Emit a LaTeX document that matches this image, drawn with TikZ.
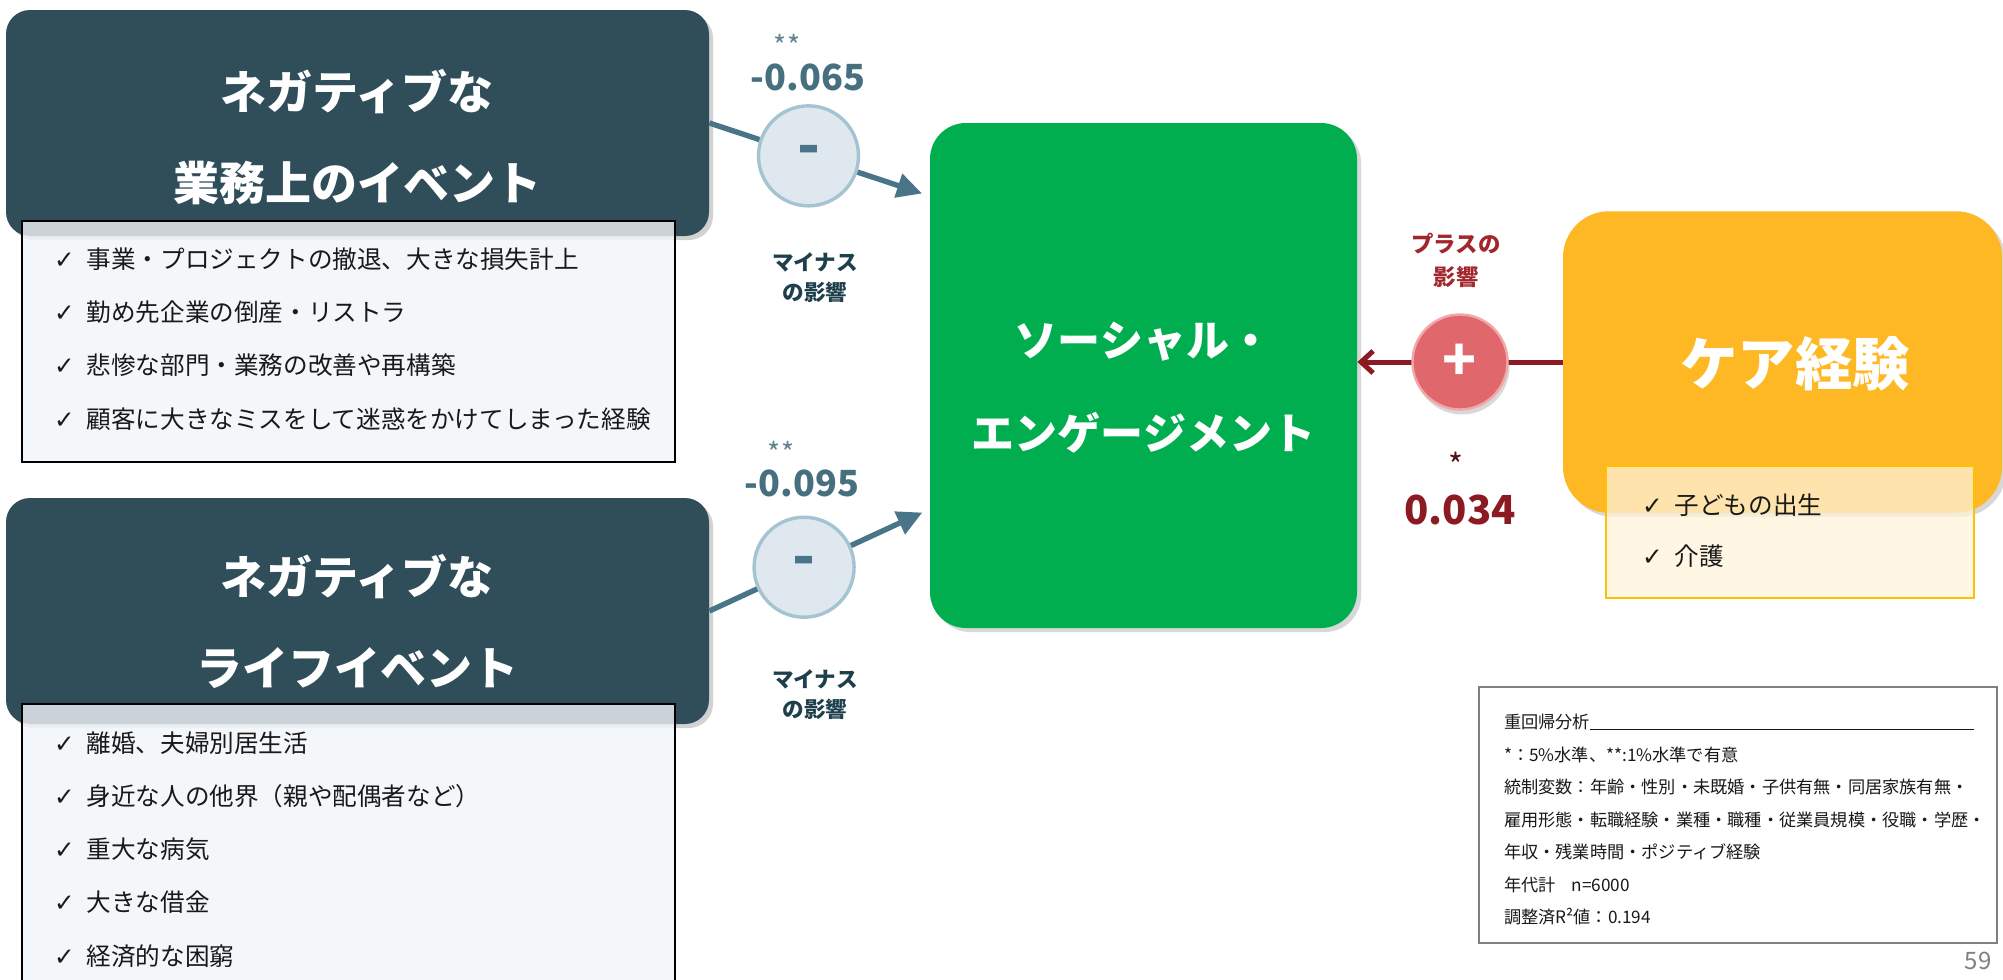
\documentclass[tikz,border=0pt]{standalone}
\usepackage{fontspec}
\setmainfont{Noto Sans CJK JP}
\newfontfamily\symfont{DejaVu Sans}
\usepackage{tikz}
\usetikzlibrary{arrows.meta,shadows}
\definecolor{slate}{HTML}{304E5A}
\definecolor{listbg}{HTML}{F2F5F8}
\definecolor{steel}{HTML}{4A7588}
\definecolor{coefteal}{HTML}{46707F}
\definecolor{mistfill}{HTML}{DEE8EE}
\definecolor{mistline}{HTML}{A6C3D1}
\definecolor{inkteal}{HTML}{1E3F4C}
\definecolor{leaf}{HTML}{00AE50}
\definecolor{rose}{HTML}{E0686C}
\definecolor{roseline}{HTML}{F2A7A9}
\definecolor{wine}{HTML}{8B1A22}
\definecolor{winetext}{HTML}{A3262D}
\definecolor{amber}{HTML}{FDB823}
\definecolor{amberline}{HTML}{FFC000}
\definecolor{cream}{HTML}{FFF3DA}
\newcommand\ck{{\symfont ✓}\hspace{6pt}}

\begin{document}
\begin{tikzpicture}[x=0.5pt, y=-0.5pt,
  darkbox/.style={fill=slate, rounded corners=12pt, minimum width=351.5pt, minimum height=113pt,
    inner sep=0pt, drop shadow={shadow xshift=2pt, shadow yshift=-2pt, opacity=0.35}},
  listbox/.style={draw=black, line width=0.9pt, fill=listbg, fill opacity=0.8,
    minimum width=326.5pt, inner sep=0pt},
  boxtitle/.style={text=white, align=center, font=\fontsize{23}{45.5}\selectfont\bfseries},
  item/.style={anchor=west, text=black!90, font=\fontsize{12.3}{14}\selectfont},
  negarrow/.style={draw=steel, line width=2.7pt, shorten >=4pt, -{Triangle[length=12.5pt, width=12pt]}},
  posarrow/.style={draw=wine, line width=2.5pt, -{Straight Barb[length=6pt, width=11pt]}},
  minuscirc/.style={circle, minimum size=50pt, inner sep=0pt, fill=mistfill, draw=mistline,
    line width=1.7pt, text=steel, font=\fontsize{30}{30}\selectfont\bfseries},
  pluscirc/.style={circle, minimum size=47.5pt, inner sep=0pt, fill=rose, draw=roseline,
    line width=1.2pt, text=white, font=\fontsize{28}{28}\selectfont\bfseries,
    drop shadow={shadow xshift=1pt, shadow yshift=-2.5pt, opacity=0.3}},
  coef/.style={text=coefteal, font=\fontsize{18}{18}\selectfont\bfseries},
  stars/.style={text=coefteal!85, font=\fontsize{14}{14}\selectfont},
  effect/.style={align=center, font=\fontsize{10.8}{15}\selectfont\bfseries},
  notetext/.style={anchor=west, text=black!90, font=\fontsize{8.6}{10}\selectfont}]

  \fill[white] (0,0) rectangle (2003,980);
  \useasboundingbox (0,0) rectangle (2003,980);

  % negative work events
  \node[darkbox] (work) at (357.5,123) {};
  \node[listbox, minimum height=120.5pt] (worklist) at (348.5,341.5) {};
  \node[boxtitle] at (357,137.5) {ネガティブな\\業務上のイベント};
  \foreach \txt [count=\i] in {事業・プロジェクトの撤退、大きな損失計上, 勤め先企業の倒産・リストラ,
      悲惨な部門・業務の改善や再構築, 顧客に大きなミスをして迷惑をかけてしまった経験}
    \node[item] at (47,{259+53.3*(\i-1)}) {\ck\txt};

  % negative life events
  \node[darkbox] (life) at (357.5,611) {};
  \node[listbox, minimum height=143pt] (lifelist) at (348.5,847) {};
  \node[boxtitle] at (357,621) {ネガティブな\\ライフイベント};
  \foreach \txt [count=\i] in {離婚、夫婦別居生活, 身近な人の他界（親や配偶者など）, 重大な病気,
      大きな借金, 経済的な困窮}
    \node[item] at (47,{743+53.2*(\i-1)}) {\ck\txt};

  % outcome
  \node[fill=leaf, rounded corners=18pt, minimum width=213.5pt, minimum height=252.5pt, inner sep=0pt,
    drop shadow={shadow xshift=2pt, shadow yshift=-2pt, opacity=0.3}] (eng) at (1143.5,375.5) {};
  \node[text=white, align=center, font=\fontsize{21.5}{46.5}\selectfont\bfseries]
    at (1143.5,387.5) {ソーシャル・\\エンゲージメント};

  % care experience
  \node[fill=amber, rounded corners=23pt, minimum width=219.5pt, minimum height=150.75pt, inner sep=0pt,
    drop shadow={shadow xshift=2pt, shadow yshift=-2pt, opacity=0.3}] (care) at (1782.5,362) {};
  \node[text=white, font=\fontsize{28.7}{30}\selectfont\bfseries] at (1795,364) {ケア経験};
  \node[draw=amberline, line width=0.8pt, fill=cream, fill opacity=0.75, minimum width=184pt,
    minimum height=66pt, inner sep=0pt] (carelist) at (1790,532) {};
  \node[item] at (1635,505) {\ck 子どもの出生};
  \node[item] at (1635,556) {\ck 介護};

  % paths
  \draw[negarrow] (work.east) -- node[minuscirc, pos=0.45] (m1) {-} (eng.140);
  \draw[negarrow] (life.east) -- node[minuscirc, pos=0.43] (m2) {-} (eng.212);
  \draw[posarrow] (care.west) -- node[pluscirc] (p1) {+} (care.west -| eng.east);

  \node[stars] at (787,45) {**};
  \node[coef] at (808,77) {-0.065};
  \node[effect, text=inkteal] at (815,278) {マイナス\\の影響};
  \node[stars] at (781,452) {**};
  \node[coef] at (802,483) {-0.095};
  \node[effect, text=inkteal] at (815,695) {マイナス\\の影響};
  \node[effect, text=winetext, font=\fontsize{11.2}{16.5}\selectfont\bfseries] at (1456,260) {プラスの\\影響};
  \node[text=wine!60!black, font=\fontsize{16}{16}\selectfont] at (1456,465) {*};
  \node[text=wine, font=\fontsize{20}{20}\selectfont\bfseries] at (1460,510) {0.034};

  % notes
  \node[draw=black!50, line width=0.9pt, minimum width=259pt, minimum height=128pt, inner sep=0pt]
    (notes) at (1738,815) {};
  \node[notetext] at (1497,722) {重回帰分析\rule[-1pt]{192pt}{0.5pt}};
  \foreach \txt [count=\i] in {*：5\%水準、**:1\%水準で有意, 統制変数：年齢・性別・未既婚・子供有無・同居家族有無・,
      雇用形態・転職経験・業種・職種・従業員規模・役職・学歴・, 年収・残業時間・ポジティブ経験,
      年代計\hspace{8pt}n=6000, 調整済R²値：0.194}
    \node[notetext] at (1497,{722+32.5*\i}) {\txt};

  \node[text=black!50, font=\fontsize{12}{12}\selectfont] at (1978,961) {59};
\end{tikzpicture}
\end{document}
